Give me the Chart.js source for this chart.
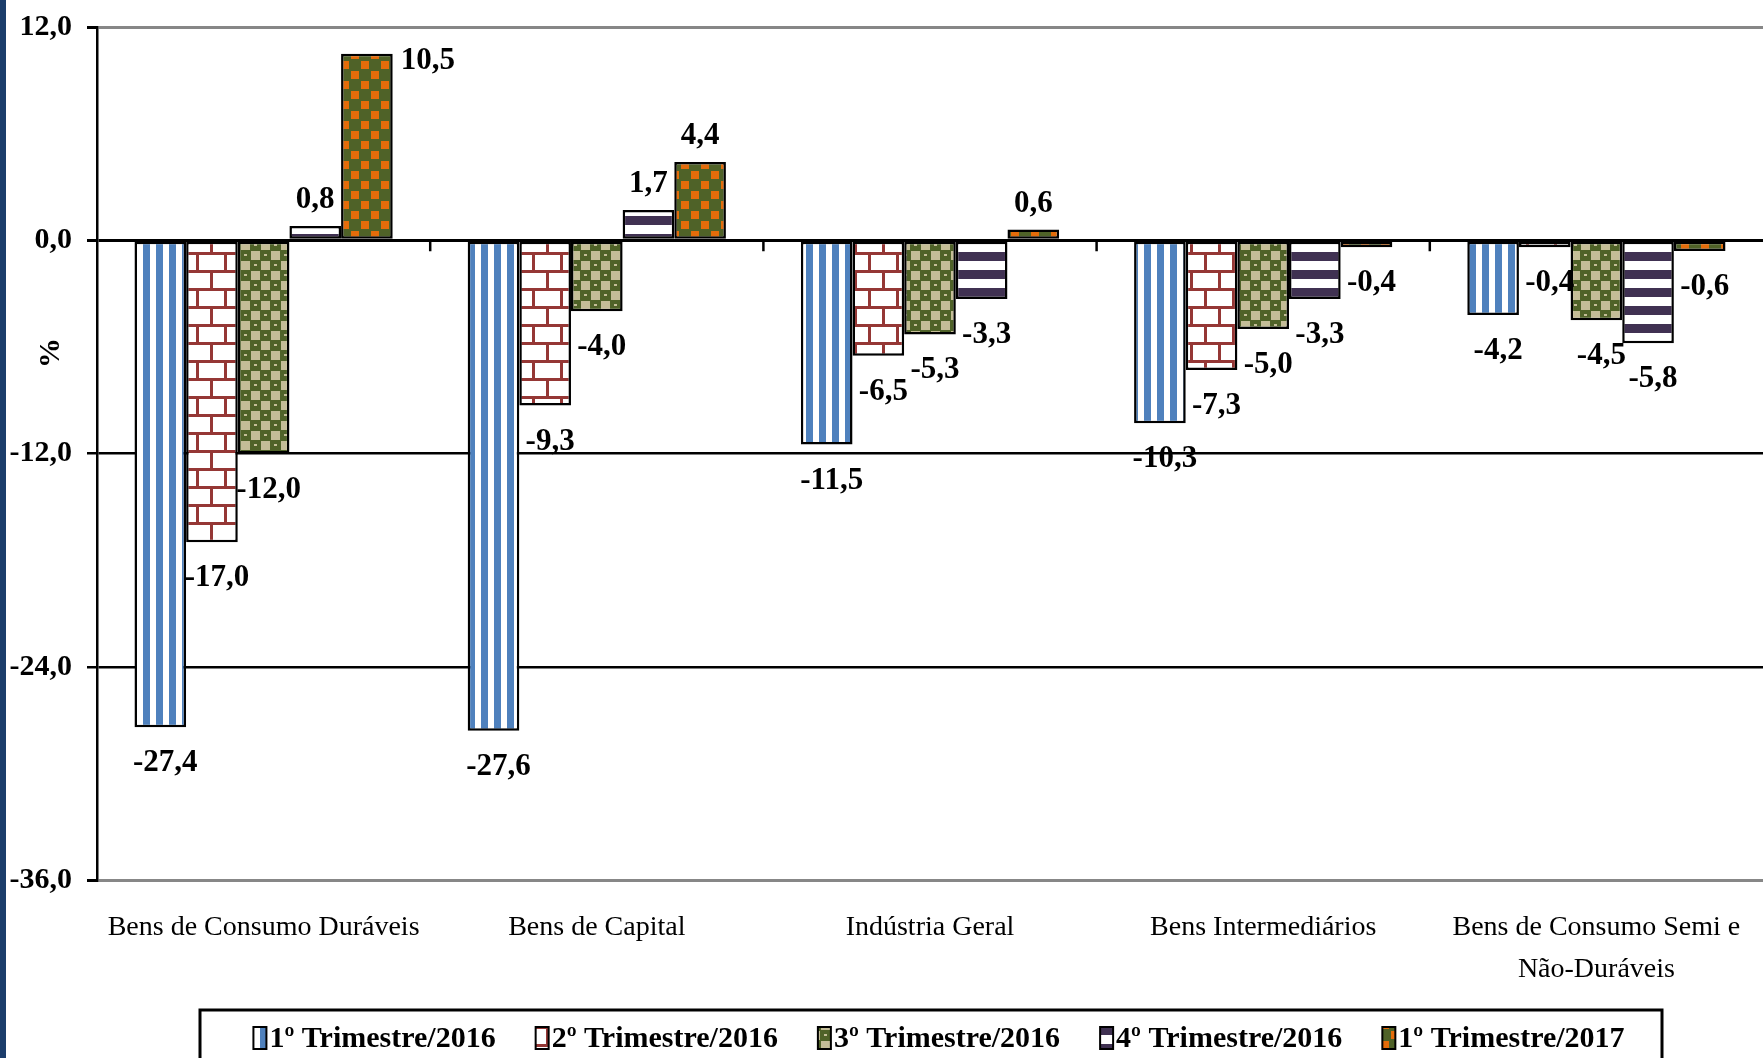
<!DOCTYPE html>
<html>
<head>
<meta charset="utf-8">
<script src="https://cdn.jsdelivr.net/npm/chart.js@4.4.0/dist/chart.umd.min.js"></script>
<style>
  html, body { margin: 0; padding: 0; background: #fff; }
  #wrap { position: relative; width: 1763px; height: 1058px; overflow: hidden; }
  #borda { position: absolute; left: 0; top: 0; width: 6px; height: 1058px; background: #1b3d6b; }
</style>
</head>
<body>
<div id="wrap">
  <canvas id="grafico" width="1763" height="1058"></canvas>
  <div id="borda"></div>
</div>
<script>
const categorias = [
  'Bens de Consumo Duráveis',
  'Bens de Capital',
  'Indústria Geral',
  'Bens Intermediários',
  ['Bens de Consumo Semi e', 'Não-Duráveis']
];
const series = ['1º Trimestre/2016', '2º Trimestre/2016', '3º Trimestre/2016', '4º Trimestre/2016', '1º Trimestre/2017'];
const tri1_2016 = [-27.4, -27.6, -11.5, -10.3, -4.2];
const tri2_2016 = [-17.0, -9.3, -6.5, -7.3, -0.4];
const tri3_2016 = [-12.0, -4.0, -5.3, -5.0, -4.5];
const tri4_2016 = [0.8, 1.7, -3.3, -3.3, -5.8];
const tri1_2017 = [10.5, 4.4, 0.6, -0.4, -0.6];
const eixoY = { min: -36, max: 12, passo: 12 };

const FONTE = "'Liberation Serif', 'DejaVu Serif', serif";
const fmt = v => v.toFixed(1).replace('.', ',');

function padrao(w, h, desenha) {
  const c = document.createElement('canvas');
  c.width = w; c.height = h;
  const g = c.getContext('2d');
  desenha(g);
  return g.createPattern(c, 'repeat');
}

const listrasAzuis = padrao(13, 1, g => {
  g.fillStyle = '#fff'; g.fillRect(0, 0, 13, 1);
  g.fillStyle = '#4F81BD'; g.fillRect(0, 0, 7, 1);
});
const tijolos = padrao(28, 36, g => {
  g.fillStyle = '#fff'; g.fillRect(0, 0, 28, 36);
  g.fillStyle = '#953735';
  g.fillRect(0, 0, 28, 3); g.fillRect(0, 18, 28, 3);
  g.fillRect(0, 3, 3, 15); g.fillRect(14, 21, 3, 15);
});
const xadrezVerde = padrao(20, 20, g => {
  g.fillStyle = '#4F6228'; g.fillRect(0, 0, 20, 20);
  g.fillStyle = '#C4BD97';
  g.fillRect(1, 1, 9, 9); g.fillRect(11, 11, 9, 9);
  g.fillRect(14, 4, 3, 2); g.fillRect(4, 14, 3, 2);
});
const listrasRoxas = padrao(1, 18, g => {
  g.fillStyle = '#fff'; g.fillRect(0, 0, 1, 18);
  g.fillStyle = '#403152'; g.fillRect(0, 0, 1, 9);
});
const pontosLaranja = padrao(20, 20, g => {
  g.fillStyle = '#4F6228'; g.fillRect(0, 0, 20, 20);
  g.fillStyle = '#E46C0A';
  g.fillRect(1, 1, 8, 8); g.fillRect(11, 11, 8, 8);
});

const valores = [tri1_2016, tri2_2016, tri3_2016, tri4_2016, tri1_2017];
const preenchimentos = [listrasAzuis, tijolos, xadrezVerde, listrasRoxas, pontosLaranja];

const rotulos = {
  id: 'rotulos',
  afterDatasetsDraw(chart) {
    const ctx = chart.ctx, area = chart.chartArea;
    const xs = chart.scales.x, ys = chart.scales.y;
    ctx.save();
    // pequenas marcas de categoria sobre a linha do zero
    const y0 = ys.getPixelForValue(0);
    ctx.strokeStyle = '#000'; ctx.lineWidth = 2.5;
    for (let i = 0; i < categorias.length - 1; i++) {
      const x = (xs.getPixelForValue(i) + xs.getPixelForValue(i + 1)) / 2;
      ctx.beginPath(); ctx.moveTo(x, y0); ctx.lineTo(x, y0 + 11); ctx.stroke();
    }
    ctx.font = 'bold 31px ' + FONTE;
    ctx.fillStyle = '#000';
    ctx.textBaseline = 'middle';
    chart.data.datasets.forEach((ds, i) => {
      chart.getDatasetMeta(i).data.forEach((bar, j) => {
        const v = ds.data[j], txt = fmt(v);
        if (v >= 0) {
          const cy = bar.y - 26;
          if (cy - 15 < area.top + 8) {
            ctx.textAlign = 'left';
            ctx.fillText(txt, bar.x + bar.width / 2 + 8, bar.y + 7);
          } else {
            ctx.textAlign = 'center';
            ctx.fillText(txt, bar.x, cy);
          }
        } else {
          ctx.textAlign = 'center';
          ctx.fillText(txt, bar.x + 5, bar.y + 36);
        }
      });
    });
    // título do eixo
    ctx.translate(area.left - 46, area.top + 326);
    ctx.rotate(-Math.PI / 2);
    ctx.font = 'bold 30px ' + FONTE;
    ctx.textAlign = 'center';
    ctx.fillText('%', 0, 0);
    ctx.restore();
  },
  afterDraw(chart) {
    const ctx = chart.ctx, H = chart.height;
    const esq = 200, dir = 1662, topo = 1010;
    ctx.save();
    ctx.strokeStyle = '#000'; ctx.lineWidth = 3;
    ctx.beginPath();
    ctx.moveTo(esq, H + 5); ctx.lineTo(esq, topo); ctx.lineTo(dir, topo); ctx.lineTo(dir, H + 5);
    ctx.stroke();
    ctx.font = 'bold 30px ' + FONTE;
    ctx.textBaseline = 'middle'; ctx.textAlign = 'left';
    const gap = 40, caixa = 13;
    const larg = series.map(s => caixa + 3 + ctx.measureText(s).width);
    const total = larg.reduce((a, b) => a + b, 0) + gap * (series.length - 1);
    let x = (esq + dir) / 2 + 8 - total / 2;
    const cy = 1038;
    series.forEach((s, i) => {
      ctx.fillStyle = preenchimentos[i];
      ctx.fillRect(x, cy - 11, caixa, 22);
      ctx.lineWidth = 2; ctx.strokeStyle = '#000';
      ctx.strokeRect(x, cy - 11, caixa, 22);
      ctx.fillStyle = '#000';
      ctx.fillText(s, x + caixa + 3, cy + 1);
      x += larg[i] + gap;
    });
    ctx.restore();
  }
};

new Chart(document.getElementById('grafico'), {
  type: 'bar',
  data: {
    labels: categorias,
    datasets: series.map((s, i) => ({
      label: s,
      data: valores[i],
      backgroundColor: preenchimentos[i],
      borderColor: '#000',
      borderWidth: 2.5,
      borderSkipped: false,
      categoryPercentage: 0.775,
      barPercentage: 1
    }))
  },
  options: {
    responsive: false,
    animation: false,
    devicePixelRatio: 1,
    layout: { padding: { top: 27, left: 0, right: 0, bottom: 0 } },
    plugins: { legend: { display: false }, tooltip: { enabled: false } },
    scales: {
      x: {
        grid: { display: false, drawTicks: false },
        border: { display: false },
        ticks: { color: '#000', padding: 27, maxRotation: 0, autoSkip: false,
                 font: { family: FONTE, size: 28, lineHeight: 1.5 } },
        afterFit: s => { s.height = 178; s.paddingLeft = 0; s.paddingRight = 0; }
      },
      y: {
        min: eixoY.min, max: eixoY.max,
        border: { display: true, color: '#000', width: 2.5 },
        grid: {
          drawTicks: true, tickLength: 10, tickColor: '#000',
          color: c => (c.tick && (c.tick.value === eixoY.max || c.tick.value === eixoY.min)) ? '#878787' : '#000',
          lineWidth: c => (c.tick && (c.tick.value === eixoY.max || c.tick.value === eixoY.min || c.tick.value === 0)) ? 3 : 2.5
        },
        ticks: { stepSize: eixoY.passo, color: '#000', padding: 15,
                 font: { family: FONTE, size: 30, weight: 'bold' },
                 callback: v => fmt(v) },
        afterFit: s => { s.width = 97; s.paddingTop = 0; s.paddingBottom = 0; }
      }
    }
  },
  plugins: [rotulos]
});
</script>
</body>
</html>
